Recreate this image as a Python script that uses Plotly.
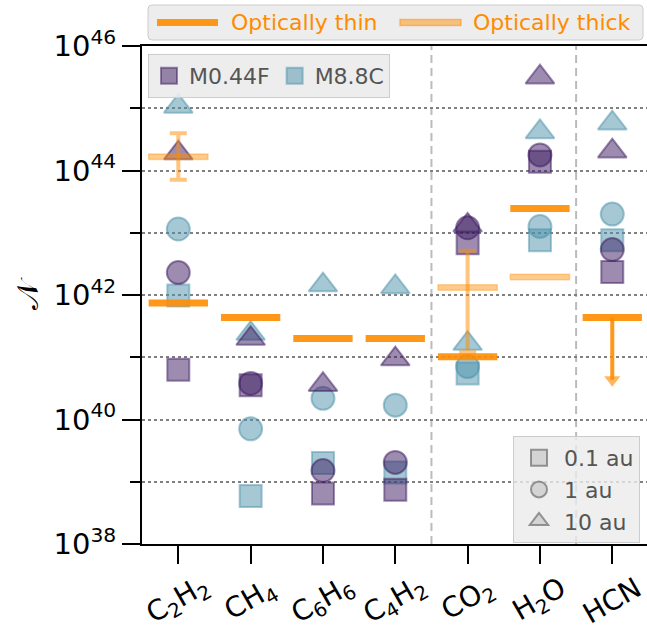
import plotly.graph_objects as go

# Molecules on the x axis (HTML subscripts for the formulae)
molecules = ["C<sub>2</sub>H<sub>2</sub>", "CH<sub>4</sub>", "C<sub>6</sub>H<sub>6</sub>",
             "C<sub>4</sub>H<sub>2</sub>", "CO<sub>2</sub>", "H<sub>2</sub>O", "HCN"]

# log10 of the number of molecules, per model and radius
m044f_01au = [40.80, 40.55, 38.81, 38.87, 42.83, 44.14, 42.37]
m044f_1au = [42.36, 40.58, 39.18, 39.31, 43.08, 44.25, 42.73]
m044f_10au = [44.28, 41.30, 40.56, 40.97, 43.12, 45.50, 44.31]
m88c_01au = [41.99, 38.77, 39.30, 39.15, 40.74, 42.88, 42.88]
m88c_1au = [43.06, 39.85, 40.34, 40.23, 40.85, 43.10, 43.30]
m88c_10au = [45.03, 41.38, 42.16, 42.13, 41.22, 44.62, 44.76]

# Observed values (log10), optically thin / thick fits
thin = [41.87, 41.64, 41.30, 41.30, 41.01, 43.39, None]
thin_upper = [None, None, None, None, None, None, 41.64]
thick = [44.22, None, None, None, 42.12, 42.29, None]
thick_lo = [43.85, None, None, None, 41.08, None, None]
thick_hi = [44.60, None, None, None, 42.71, None, None]

PURPLE = (60, 25, 95)
TEAL = (75, 145, 170)
ORANGE = "rgba(255,140,0,0.9)"
ORANGE_THICK = "rgba(255,140,0,0.45)"
ORANGE_THICK_EDGE = "rgba(255,140,0,0.35)"
FONT = "DejaVu Sans"
HALF = 0.41        # half width of the horizontal bars (x units)
HALF_DEC = 0.045   # half height of the thick bars (decades)

W, H = 647, 631
ML, MR, MT, MB = 142, 0, 46, 87
PW, PH = W - ML - MR, H - MT - MB


def px(x):
    """Horizontal pixel position -> paper coordinate."""
    return (x - ML) / PW


def py(y):
    """Vertical pixel position (from top) -> paper coordinate."""
    return (H - MB - y) / PH


def rgba(c, a):
    return f"rgba({c[0]},{c[1]},{c[2]},{a})"


def p10(v):
    return 10.0 ** v


def pow10(vals):
    return [None if v is None else p10(v) for v in vals]


fig = go.Figure()

x_idx = list(range(len(molecules)))
series = [
    (m88c_01au, TEAL, "square", 22),
    (m88c_1au, TEAL, "circle", 23),
    (m88c_10au, TEAL, "triangle-up", 25),
    (m044f_01au, PURPLE, "square", 22),
    (m044f_1au, PURPLE, "circle", 23),
    (m044f_10au, PURPLE, "triangle-up", 25),
]
for vals, col, sym, size in series:
    fig.add_trace(go.Scatter(
        x=x_idx, y=pow10(vals), mode="markers", showlegend=False,
        marker=dict(symbol=sym, size=size, color=rgba(col, 0.5),
                    line=dict(color=rgba(col, 0.5), width=2)),
        hoverinfo="skip"))

# Optically thick: filled bars with error bars
tx, ty = [], []
for i, v in enumerate(thick):
    if v is None:
        continue
    lo, hi = p10(v - HALF_DEC), p10(v + HALF_DEC)
    tx += [i - HALF, i + HALF, i + HALF, i - HALF, i - HALF, None]
    ty += [lo, lo, hi, hi, lo, None]
fig.add_trace(go.Scatter(
    x=tx, y=ty, mode="lines", fill="toself", fillcolor=ORANGE_THICK,
    line=dict(color=ORANGE_THICK_EDGE, width=1.5), name="Optically thick",
    showlegend=False, hoverinfo="skip"))

ex, ey, eup, edn = [], [], [], []
for i, (v, lo, hi) in enumerate(zip(thick, thick_lo, thick_hi)):
    if v is None or lo is None:
        continue
    ex.append(i)
    ey.append(p10(v))
    eup.append(p10(hi) - p10(v))
    edn.append(p10(v) - p10(lo))
fig.add_trace(go.Scatter(
    x=ex, y=ey, mode="markers", marker=dict(size=1, opacity=0),
    showlegend=False, hoverinfo="skip",
    error_y=dict(type="data", symmetric=False, array=eup, arrayminus=edn,
                 color="rgba(255,140,0,0.5)", thickness=4, width=8.5)))

# Optically thin: solid bars
bx, by = [], []
for i, v in enumerate(thin):
    if v is None:
        v = thin_upper[i]
    if v is None:
        continue
    bx += [i - HALF, i + HALF, None]
    by += [p10(v), p10(v), None]
fig.add_trace(go.Scatter(
    x=bx, y=by, mode="lines", line=dict(color=ORANGE, width=7),
    name="Optically thin", showlegend=False, hoverinfo="skip"))

# Upper-limit arrows (one decade long)
for i, v in enumerate(thin_upper):
    if v is None:
        continue
    fig.add_trace(go.Scatter(
        x=[i, i], y=[p10(v), p10(v - 1)], mode="lines+markers",
        line=dict(color=ORANGE, width=4),
        marker=dict(symbol=["circle", "triangle-down"], size=[0, 14],
                    color=ORANGE, line=dict(width=0)),
        showlegend=False, hoverinfo="skip"))

# Model legend
for name, col in [("M0.44F", PURPLE), ("M8.8C", TEAL)]:
    fig.add_trace(go.Scatter(
        x=[None], y=[None], mode="markers", name=name, legend="legend2",
        marker=dict(symbol="square", size=16, color=rgba(col, 0.5),
                    line=dict(color=rgba(col, 0.5), width=2))))

# Radius legend
for name, sym in [("0.1 au", "square"), ("1 au", "circle"), ("10 au", "triangle-up")]:
    fig.add_trace(go.Scatter(
        x=[None], y=[None], mode="markers", name=name, legend="legend3",
        marker=dict(symbol=sym, size=16, color="rgba(180,180,180,0.45)",
                    line=dict(color="rgba(110,110,110,0.7)", width=2))))

# Dashed separators between molecule groups
for sep in [3.5, 5.5]:
    fig.add_shape(type="line", xref="x", yref="paper", x0=sep, x1=sep, y0=0, y1=1,
                  line=dict(color="#bbbbbb", width=2, dash="8px,5px"), layer="below")


# Legend for the observational fits, above the axes
def rounded_box(x0, y0, x1, y1, r=4):
    a, b, c, d = px(x0), px(x1), py(y0), py(y1)
    rx, ry = r / PW, r / PH
    return (f"M{a + rx},{c} L{b - rx},{c} Q{b},{c} {b},{c - ry} "
            f"L{b},{d + ry} Q{b},{d} {b - rx},{d} L{a + rx},{d} "
            f"Q{a},{d} {a},{d + ry} L{a},{c - ry} Q{a},{c} {a + rx},{c} Z")


fig.add_shape(type="path", xref="paper", yref="paper", path=rounded_box(148, 5, 643, 40),
              fillcolor="rgba(235,235,235,0.9)", line=dict(color="#cccccc", width=1))
fig.add_shape(type="rect", xref="paper", yref="paper",
              x0=px(157), x1=px(218), y0=py(19), y1=py(26),
              fillcolor=ORANGE, line=dict(width=0))
fig.add_shape(type="rect", xref="paper", yref="paper",
              x0=px(400), x1=px(461), y0=py(19.5), y1=py(25.5),
              fillcolor=ORANGE_THICK, line=dict(color="rgba(255,140,0,0.5)", width=1.5))
for label, x0 in [("Optically thin", 229), ("Optically thick", 471)]:
    fig.add_annotation(x=px(x0), xref="paper", y=py(22.5), yref="paper", text=label,
                       showarrow=False, xanchor="left", yanchor="middle",
                       font=dict(size=22, family=FONT, color="#ff8c00"))

# x tick labels, rotated and centred under each tick
for i, m in enumerate(molecules):
    fig.add_annotation(x=i, xref="x", y=py(600), yref="paper", text=m,
                       showarrow=False, textangle=-30, xanchor="center",
                       yanchor="middle", borderpad=0,
                       font=dict(size=28, family=FONT, color="black"))

# y axis label
fig.add_annotation(x=px(27), xref="paper", y=py(294), yref="paper", text="𝒩",
                   showarrow=False, textangle=-90, xanchor="center", yanchor="middle",
                   font=dict(size=30, family=FONT, color="black"))

grid = dict(gridcolor="#808080", griddash="dot", gridwidth=1.5)
major = [p10(k) for k in range(38, 47, 2)]
minor = [p10(k) for k in range(39, 46, 2)]

fig.update_layout(
    width=W, height=H,
    margin=dict(l=ML, r=MR, t=MT, b=MB),
    paper_bgcolor="white", plot_bgcolor="white",
    font=dict(family=FONT, size=22, color="black"),
    xaxis=dict(range=[-0.502, 6.48], tickvals=x_idx, showticklabels=False,
               ticks="outside", ticklen=18, tickwidth=2, tickcolor="black",
               showline=True, linewidth=2, linecolor="black", mirror=True,
               showgrid=False, zeroline=False),
    yaxis=dict(type="log", range=[38, 46], tickvals=major,
               ticktext=[f"10<sup>{k}</sup>" for k in range(38, 47, 2)],
               tickfont=dict(size=29, family=FONT, color="black"),
               ticks="outside", ticklen=18, tickwidth=2, tickcolor="black",
               showline=True, linewidth=2, linecolor="black",
               showgrid=True, zeroline=False, **grid,
               minor=dict(tickvals=minor, ticks="outside", ticklen=10, tickwidth=2,
                          tickcolor="black", showgrid=True, **grid)),
    legend2=dict(orientation="h", x=px(148), xanchor="left", y=py(54), yanchor="top",
                 bgcolor="rgba(235,235,235,0.9)", bordercolor="#cccccc", borderwidth=1,
                 font=dict(size=22, color="#555555", family=FONT)),
    legend3=dict(orientation="v", x=px(640), xanchor="right", y=py(543), yanchor="bottom",
                 itemwidth=40,
                 bgcolor="rgba(235,235,235,0.8)", bordercolor="#cccccc", borderwidth=1,
                 font=dict(size=22, color="#555555", family=FONT)),
)

fig.write_html("out.html")
